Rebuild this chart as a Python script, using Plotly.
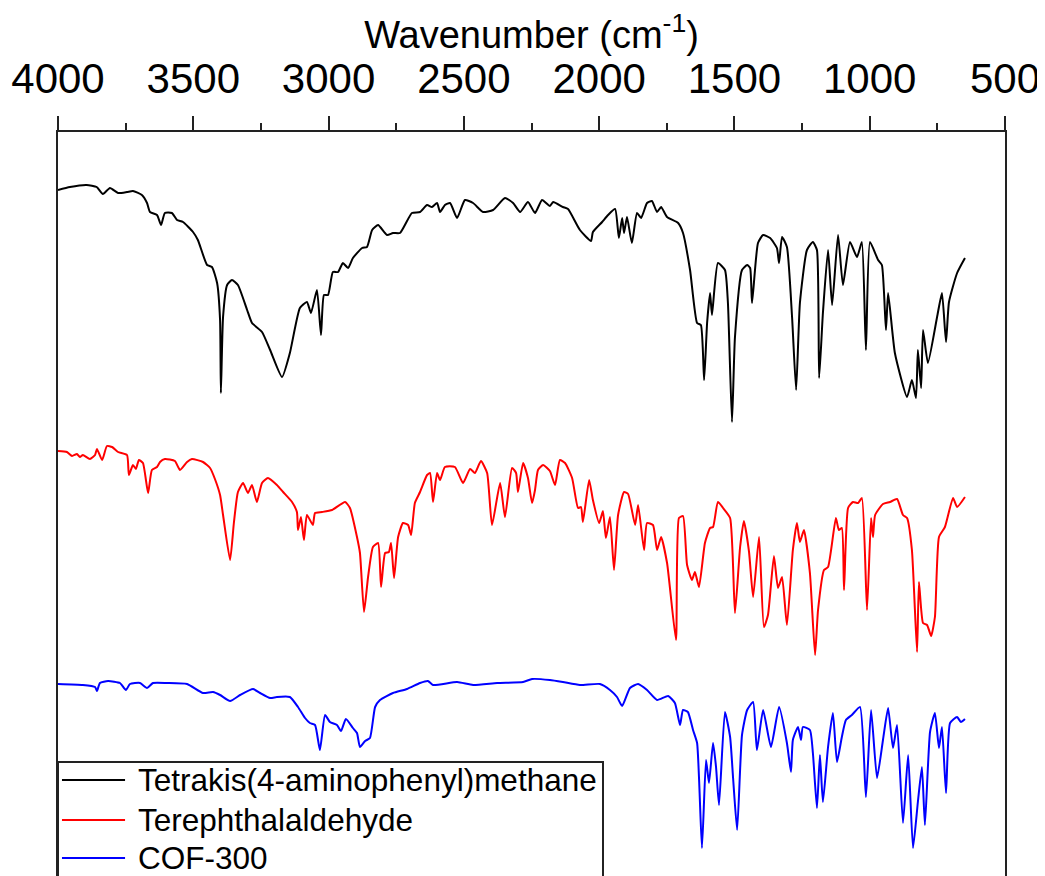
import plotly.graph_objects as go

# Wavenumber (cm^-1) and stacked transmittance (a.u.)
tapm_wn = [4000, 3956, 3894, 3857, 3834, 3808, 3778, 3745, 3723, 3690, 3671, 3660, 3634, 3619, 3605, 3579, 3560, 3538,
           3501, 3483, 3449, 3431, 3412, 3401, 3398, 3390, 3375, 3357, 3335, 3301, 3283, 3246, 3216, 3172, 3143, 3106,
           3080, 3065, 3043, 3028, 3017, 3002, 2984, 2965, 2947, 2928, 2910, 2876, 2858, 2839, 2817, 2784, 2762, 2736,
           2692, 2662, 2636, 2618, 2599, 2588, 2570, 2551, 2525, 2496, 2466, 2429, 2392, 2348, 2318, 2292, 2263, 2237,
           2211, 2182, 2170, 2134, 2115, 2071, 2030, 2023, 1989, 1967, 1941, 1927, 1915, 1908, 1897, 1879, 1860, 1845,
           1823, 1805, 1786, 1771, 1749, 1708, 1690, 1664, 1638, 1624, 1612, 1601, 1590, 1583, 1561, 1535, 1524, 1509,
           1498, 1472, 1453, 1442, 1435, 1413, 1394, 1368, 1343, 1335, 1324, 1306, 1287, 1272, 1258, 1232, 1210, 1195,
           1187, 1173, 1154, 1139, 1117, 1099, 1073, 1047, 1029, 1014, 999, 969, 955, 940, 932, 907, 862, 844, 829,
           822, 810, 803, 785, 751, 733, 718, 707, 677, 648]
tapm_t = [686, 689, 691, 689, 682, 688, 683, 684, 685, 681, 673, 664, 661, 651, 663, 663, 656, 654,
          644, 636, 611, 609, 593, 556, 483, 559, 591, 596, 591, 566, 553, 544, 526, 499, 523, 568,
          574, 563, 586, 541, 581, 581, 604, 604, 613, 608, 618, 628, 629, 646, 651, 641, 643, 643,
          663, 664, 671, 669, 673, 664, 671, 673, 658, 676, 673, 664, 666, 678, 673, 664, 674, 663,
          676, 670, 674, 669, 667, 646, 635, 644, 654, 661, 667, 638, 658, 643, 659, 633, 663, 658,
          673, 675, 664, 669, 659, 653, 643, 606, 553, 551, 496, 553, 583, 561, 613, 606, 573, 454,
          539, 606, 611, 608, 573, 633, 641, 638, 628, 613, 639, 629, 559, 486, 573, 626, 634, 626,
          498, 563, 626, 571, 641, 591, 634, 619, 634, 526, 634, 616, 611, 546, 583, 523, 479, 496, 478,
          526, 488, 546, 513, 559, 583, 534, 574, 603, 618]

tpa_wn = [4000, 3967, 3948, 3930, 3919, 3908, 3882, 3863, 3856, 3837, 3819, 3800, 3778, 3745, 3738, 3723, 3712, 3701,
          3686, 3667, 3653, 3634, 3623, 3605, 3568, 3549, 3523, 3505, 3464, 3438, 3420, 3401, 3390, 3364, 3350, 3335,
          3316, 3298, 3283, 3265, 3246, 3224, 3191, 3168, 3135, 3117, 3113, 3102, 3091, 3080, 3058, 3050, 3024, 2987,
          2939, 2921, 2895, 2884, 2869, 2854, 2836, 2817, 2806, 2791, 2777, 2769, 2758, 2743, 2725, 2706, 2695, 2681,
          2662, 2636, 2625, 2614, 2599, 2588, 2570, 2533, 2503, 2477, 2459, 2437, 2414, 2396, 2366, 2348, 2322, 2307,
          2300, 2281, 2263, 2248, 2237, 2226, 2207, 2182, 2163, 2145, 2126, 2100, 2078, 2067, 2060, 2037, 2023, 2000,
          1986, 1975, 1960, 1945, 1930, 1908, 1893, 1867, 1856, 1834, 1823, 1801, 1786, 1771, 1749, 1716, 1705, 1690,
          1675, 1657, 1646, 1631, 1609, 1590, 1579, 1561, 1542, 1516, 1498, 1479, 1465, 1446, 1431, 1409, 1391, 1376,
          1354, 1339, 1324, 1306, 1284, 1269, 1258, 1243, 1221, 1202, 1191, 1169, 1154, 1125, 1114, 1103, 1095, 1080,
          1062, 1043, 1029, 1010, 995, 988, 980, 951, 925, 899, 877, 862, 844, 825, 818, 803, 788, 773, 759, 744,
          722, 692, 677, 648]
tpa_t = [425, 424, 420, 422, 419, 421, 417, 421, 427, 416, 430, 429, 424, 421, 401, 411, 407, 416,
         413, 383, 406, 409, 414, 417, 415, 406, 414, 417, 414, 408, 397, 381, 361, 316, 353, 384,
         393, 383, 391, 374, 393, 398, 391, 384, 374, 364, 346, 359, 336, 361, 351, 363, 364, 366,
         374, 368, 339, 323, 264, 299, 329, 333, 289, 323, 324, 333, 298, 339, 353, 351, 341, 373,
         384, 401, 403, 374, 403, 396, 409, 409, 393, 407, 403, 415, 403, 351, 393, 359, 408, 403,
         384, 413, 398, 373, 386, 406, 411, 405, 391, 416, 413, 398, 368, 369, 354, 396, 376, 353,
         365, 338, 359, 306, 361, 384, 382, 351, 371, 326, 353, 351, 326, 339, 313, 236, 358, 360,
         311, 296, 304, 289, 333, 348, 349, 374, 368, 358, 263, 329, 355, 324, 279, 339, 249, 261,
         320, 288, 299, 251, 326, 353, 334, 346, 303, 221, 266, 306, 309, 358, 346, 348, 286, 368,
         374, 373, 378, 266, 358, 339, 361, 372, 374, 377, 361, 358, 326, 224, 294, 253, 251, 240, 259, 339,
         349, 378, 369, 379]

cof_wn = [4000, 3908, 3863, 3856, 3845, 3815, 3771, 3749, 3734, 3697, 3671, 3649, 3597, 3523, 3464, 3427, 3401, 3364,
          3327, 3279, 3253, 3216, 3191, 3143, 3113, 3087, 3069, 3050, 3032, 3013, 2995, 2969, 2954, 2936, 2910, 2895,
          2884, 2865, 2847, 2828, 2810, 2762, 2710, 2662, 2633, 2614, 2525, 2466, 2377, 2281, 2248, 2182, 2134, 2071,
          1997, 1960, 1934, 1915, 1886, 1856, 1823, 1786, 1745, 1720, 1701, 1690, 1672, 1653, 1638, 1620, 1605, 1594,
          1579, 1568, 1557, 1535, 1516, 1505, 1490, 1472, 1453, 1431, 1417, 1394, 1365, 1335, 1306, 1291, 1284, 1265,
          1254, 1247, 1221, 1210, 1195, 1184, 1173, 1154, 1136, 1121, 1103, 1088, 1066, 1036, 1014, 995, 973, 951,
          932, 914, 899, 877, 858, 840, 822, 807, 796, 777, 759, 744, 733, 718, 703, 677, 663, 648]
cof_t = [192, 191, 189, 185, 193, 195, 193, 186, 192, 193, 188, 193, 193, 192, 183, 184, 181, 175,
         181, 187, 183, 178, 179, 179, 169, 158, 153, 151, 126, 161, 154, 151, 145, 157, 148, 143,
         129, 135, 138, 169, 176, 183, 187, 193, 195, 191, 194, 191, 193, 194, 197, 196, 194, 191,
         192, 186, 179, 170, 188, 192, 186, 176, 180, 173, 151, 166, 164, 146, 133, 28, 116, 93,
         133, 109, 71, 164, 139, 98, 46, 141, 166, 174, 126, 166, 129, 169, 133, 104, 136, 149,
         136, 149, 146, 123, 68, 121, 74, 129, 163, 114, 139, 156, 161, 169, 79, 166, 98, 136,
         168, 128, 151, 53, 121, 28, 74, 109, 51, 144, 163, 128, 149, 83, 153, 159, 154, 157]

names = ["Tetrakis(4-aminophenyl)methane", "Terephthalaldehyde", "COF-300"]
colors = ["#000000", "#ff0000", "#0000ff"]
series = [(tapm_wn, tapm_t), (tpa_wn, tpa_t), (cof_wn, cof_t)]

x_ticks = [4000, 3500, 3000, 2500, 2000, 1500, 1000, 500]

FONT = "Liberation Sans, Arial, sans-serif"
AX = "#222222"

fig = go.Figure()
for (wn, t), name, col in zip(series, names, colors):
    fig.add_trace(go.Scatter(x=wn, y=t, mode="lines", name=name, showlegend=False,
                             line=dict(color=col, width=2, shape="spline", smoothing=0.5)))

# Legend box drawn in paper coordinates (cut off by the bottom edge as in the reference)
leg_top = 0.1532
leg_rows = [0.129, 0.0753, 0.0242]
fig.add_shape(type="rect", xref="paper", yref="paper", x0=0, x1=0.5755, y0=-0.2, y1=leg_top,
              fillcolor="white", line=dict(color=AX, width=2), layer="above")
for name, col, yr in zip(names, colors, leg_rows):
    fig.add_shape(type="line", xref="paper", yref="paper", x0=0.0042, x1=0.0708, y0=yr, y1=yr,
                  line=dict(color=col, width=2), layer="above")
    fig.add_annotation(text=name, xref="paper", yref="paper", x=0.0825, y=yr,
                       xanchor="left", yanchor="middle", showarrow=False,
                       font=dict(size=31.5, family=FONT, color="black"))

# the page body adds an 8 px offset, so the figure is 8 px smaller
fig.update_layout(
    width=1037, height=868,
    margin=dict(l=50, r=40, t=124, b=0, autoexpand=False),
    paper_bgcolor="white", plot_bgcolor="white",
    font=dict(family=FONT, color="black"),
    showlegend=False,
    xaxis=dict(side="top", range=[4000, 500], tickvals=x_ticks, automargin=False,
               ticks="outside", ticklen=14, tickwidth=2, tickcolor=AX,
               minor=dict(dtick=250, ticks="outside", ticklen=7, tickwidth=2, tickcolor=AX),
               showline=True, linewidth=2, linecolor=AX, mirror=False,
               showgrid=False, zeroline=False, ticklabelstandoff=6,
               tickfont=dict(size=42, family=FONT),
               title=dict(text="Wavenumber (cm<sup>-1</sup>)", font=dict(size=38, family=FONT), standoff=3)),
    yaxis=dict(range=[0, 744], showticklabels=False, ticks="", showgrid=False, zeroline=False,
               automargin=False,
               showline=True, linewidth=2, linecolor=AX, mirror=True),
)

fig.write_html("out.html")
